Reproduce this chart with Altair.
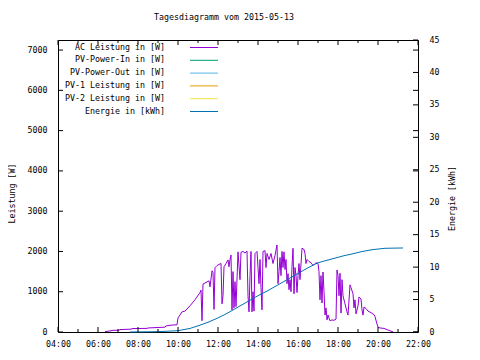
import altair as alt
import pandas as pd

# ---------------- data ----------------
power_time = [
    "06:21", "06:39", "06:42", "07:03", "07:06", "07:39", "07:42", "08:27", "08:30", "09:21",
    "09:24", "09:39", "09:57", "10:00", "10:12", "10:21", "10:36", "10:51", "11:06", "11:09",
    "11:12", "11:15", "11:24", "11:33", "11:36", "11:42", "11:45", "11:48", "11:51", "11:57",
    "12:06", "12:09", "12:12", "12:15", "12:18", "12:24", "12:30", "12:33", "12:36", "12:39",
    "12:42", "12:45", "12:48", "12:51", "12:54", "13:00", "13:06", "13:09", "13:15", "13:21",
    "13:27", "13:30", "13:33", "13:36", "13:39", "13:42", "13:45", "13:48", "13:51", "13:57",
    "14:00", "14:03", "14:06", "14:09", "14:12", "14:15", "14:21", "14:24", "14:27", "14:33",
    "14:39", "14:45", "14:51", "14:57", "15:00", "15:03", "15:06", "15:09", "15:12", "15:15",
    "15:18", "15:21", "15:24", "15:27", "15:30", "15:33", "15:36", "15:39", "15:42", "15:45",
    "15:48", "15:51", "15:54", "15:57", "16:00", "16:03", "16:06", "16:12", "16:18", "16:21",
    "16:24", "16:27", "16:33", "16:39", "16:45", "16:51", "16:57", "17:00", "17:03", "17:06",
    "17:09", "17:12", "17:15", "17:18", "17:21", "17:24", "17:27", "17:30", "17:36", "17:42",
    "17:48", "17:54", "17:57", "18:00", "18:03", "18:06", "18:09", "18:12", "18:15", "18:21",
    "18:27", "18:30", "18:36", "18:39", "18:45", "18:48", "18:51", "18:54", "19:00", "19:03",
    "19:09", "19:12", "19:15", "19:18", "19:24", "19:30", "19:39", "19:48", "19:51", "19:57",
    "20:00", "20:06", "20:18", "20:27", "20:36", "20:45",
]
power_w = [
    10, 30, 40, 45, 60, 70, 85, 90, 100, 120,
    150, 170, 180, 350, 500, 520, 650, 800, 980, 1040,
    280, 1190, 1230, 1270, 1120, 1520, 1480, 560, 1600, 1650,
    1690, 1700, 700, 900, 1620, 1700, 1790, 1620, 1800, 1910,
    550, 1500, 600, 1250, 630, 1990, 1300, 1980, 2000, 1960,
    2010, 900, 500, 1400, 2000, 500, 1000, 520, 1950, 2000,
    1600, 1200, 1800, 1100, 550, 2000, 2020, 1600, 1950, 1800,
    1950, 1700, 1900, 2160, 1200, 1500, 1850, 1400, 2000, 1600,
    1990, 1550, 1800, 1200, 1450, 1050, 1300, 1000, 1620, 2080,
    950, 1600, 1400, 980, 1400, 1700, 1300, 2080, 2050, 1950,
    1700, 1800, 1750, 1720, 1650, 1700, 1720, 1700, 1500, 800,
    1400, 720, 1490, 1000, 420, 600, 300, 420, 280, 300,
    290, 320, 1540, 1400, 900, 1460, 470, 1300, 900, 700,
    500, 420, 1170, 1100, 950, 600, 800, 450, 650, 870,
    820, 550, 420, 620, 580, 520, 480, 430, 380, 200,
    120, 100, 90, 60, 30, 5,
]
energy_time = [
    "07:36", "09:00", "10:00", "10:36", "11:06", "11:30", "11:57", "12:21", "12:45", "13:09",
    "13:36", "14:00", "14:27", "14:51", "15:15", "15:42", "16:06", "16:30", "16:57", "17:12",
    "17:45", "18:21", "18:36", "19:12", "19:45", "20:21", "21:15",
]
energy_kwh = [
    0.0, 0.05, 0.2, 0.55, 1.05, 1.5, 2.1, 2.7, 3.4, 4.1,
    4.9, 5.6, 6.3, 7.0, 7.7, 8.5, 9.2, 9.9, 10.6, 10.85,
    11.3, 11.8, 11.95, 12.4, 12.7, 12.9, 12.95,
]
legend_labels = [
    "AC Leistung in [W]", "PV-Power-In in [W]", "PV-Power-Out in [W]",
    "PV-1 Leistung in [W]", "PV-2 Leistung in [W]", "Energie in [kWh]",
]
legend_colors = ["#9400d3", "#009e73", "#56b4e9", "#e69f00", "#f0e442", "#0072b2"]
x_label_hours = [4, 6, 8, 10, 12, 14, 16, 18, 20, 22]
x_minor_hours = [5, 7, 9, 11, 13, 15, 17, 19, 21]
w_ticks = [0, 1000, 2000, 3000, 4000, 5000, 6000, 7000]
kwh_ticks = [0, 5, 10, 15, 20, 25, 30, 35, 40, 45]
title_text = "Tagesdiagramm vom 2015-05-13"


def to_hours(s):
    h, m = s.split(":")
    return int(h) + int(m) / 60.0


power_df = pd.DataFrame({"h": [to_hours(t) for t in power_time], "w": power_w})
energy_df = pd.DataFrame({"h": [to_hours(t) for t in energy_time], "e": energy_kwh})
legend_df = pd.DataFrame({"label": legend_labels, "color": legend_colors,
                          "row": list(range(len(legend_labels)))})
xmaj_df = pd.DataFrame({"h": x_label_hours})
xmin_df = pd.DataFrame({"h": x_minor_hours})
wt_df = pd.DataFrame({"w": w_ticks})
et_df = pd.DataFrame({"e": kwh_ticks})

# ---------------- layout ----------------
W, H = 360, 292
FONT = "DejaVu Sans Mono"
FS = 8.3

xscale = alt.Scale(domain=[4, 22], nice=False, zero=False)
wscale = alt.Scale(domain=[0, 7250], nice=False, zero=True)
escale = alt.Scale(domain=[0, 45], nice=False, zero=True)

x_axis = alt.Axis(values=x_label_hours,
                  labelExpr="(datum.value < 10 ? '0' : '') + datum.value + ':00'",
                  ticks=False, domain=False, grid=False, labelPadding=7,
                  title=None, labelFont=FONT, labelFontSize=FS, labelColor="black",
                  labelFlush=False, labelOverlap=False)

power_line = alt.Chart(power_df).mark_line(color="#9400d3", strokeWidth=1).encode(
    x=alt.X("h:Q", scale=xscale, axis=x_axis),
    y=alt.Y("w:Q", scale=wscale, axis=alt.Axis(
        orient="left", values=w_ticks, format="d", ticks=False, domain=False, grid=False,
        labelPadding=11, labelFont=FONT, labelFontSize=FS, labelColor="black",
        title="Leistung [W]", titleFont=FONT, titleFontSize=FS, titleFontWeight="normal",
        titleColor="black", titleX=-46, titleY=153, titleAngle=270, titleBaseline="middle",
        titleAlign="center")),
)

energy_line = alt.Chart(energy_df).mark_line(color="#0072b2", strokeWidth=1).encode(
    x=alt.X("h:Q", scale=xscale, axis=None),
    y=alt.Y("e:Q", scale=escale, axis=alt.Axis(
        orient="right", values=kwh_ticks, format="d", ticks=False, domain=False, grid=False,
        labelPadding=11, labelFont=FONT, labelFontSize=FS, labelColor="black",
        title="Energie [kWh]", titleFont=FONT, titleFontSize=FS, titleFontWeight="normal",
        titleColor="black", titleX=34, titleY=158, titleAngle=270, titleBaseline="middle",
        titleAlign="center")),
)

bottom_major = alt.Chart(xmaj_df).mark_rule(color="black", strokeWidth=1).encode(
    x=alt.X("h:Q", scale=xscale, axis=None), y=alt.value(H), y2=alt.value(H - 5))
top_major = alt.Chart(xmaj_df).mark_rule(color="black", strokeWidth=1).encode(
    x=alt.X("h:Q", scale=xscale, axis=None), y=alt.value(0), y2=alt.value(5))
bottom_minor = alt.Chart(xmin_df).mark_rule(color="black", strokeWidth=1).encode(
    x=alt.X("h:Q", scale=xscale, axis=None), y=alt.value(H), y2=alt.value(H - 3))
top_minor = alt.Chart(xmin_df).mark_rule(color="black", strokeWidth=1).encode(
    x=alt.X("h:Q", scale=xscale, axis=None), y=alt.value(0), y2=alt.value(3))
left_ticks = alt.Chart(wt_df).mark_rule(color="black", strokeWidth=1).encode(
    y=alt.Y("w:Q", scale=wscale, axis=None), x=alt.value(0), x2=alt.value(5))
right_wticks = alt.Chart(wt_df).mark_rule(color="black", strokeWidth=1).encode(
    y=alt.Y("w:Q", scale=wscale, axis=None), x=alt.value(W), x2=alt.value(W - 5))
right_eticks = alt.Chart(et_df).mark_rule(color="black", strokeWidth=1).encode(
    y=alt.Y("e:Q", scale=escale, axis=None), x=alt.value(W), x2=alt.value(W - 5))

row_scale = alt.Scale(domain=[0, 5], range=[7.5, 71.5])
legend_text = alt.Chart(legend_df).mark_text(
    align="right", baseline="middle", font=FONT, fontSize=FS, color="black").encode(
    x=alt.value(107), y=alt.Y("row:Q", scale=row_scale, axis=None), text="label:N")
legend_rule = alt.Chart(legend_df).mark_rule(strokeWidth=1).encode(
    x=alt.value(132), x2=alt.value(160), y=alt.Y("row:Q", scale=row_scale, axis=None),
    color=alt.Color("color:N", scale=None))

chart = alt.layer(
    power_line, energy_line, bottom_major, top_major, bottom_minor, top_minor,
    left_ticks, right_wticks, right_eticks, legend_text, legend_rule,
).resolve_scale(
    x="independent", y="independent"
).properties(
    width=W, height=H,
    title=alt.TitleParams(title_text, font=FONT, fontSize=FS, fontWeight="normal",
                          color="black", anchor="middle", dx=-14, offset=14),
    padding={"left": 50, "top": 32, "right": 54, "bottom": 20},
    autosize=alt.AutoSizeParams(type="none"),
    background="white",
).configure_view(stroke="black", strokeWidth=1)

chart.save("out.html", embed_options={"renderer": "svg", "actions": False})
